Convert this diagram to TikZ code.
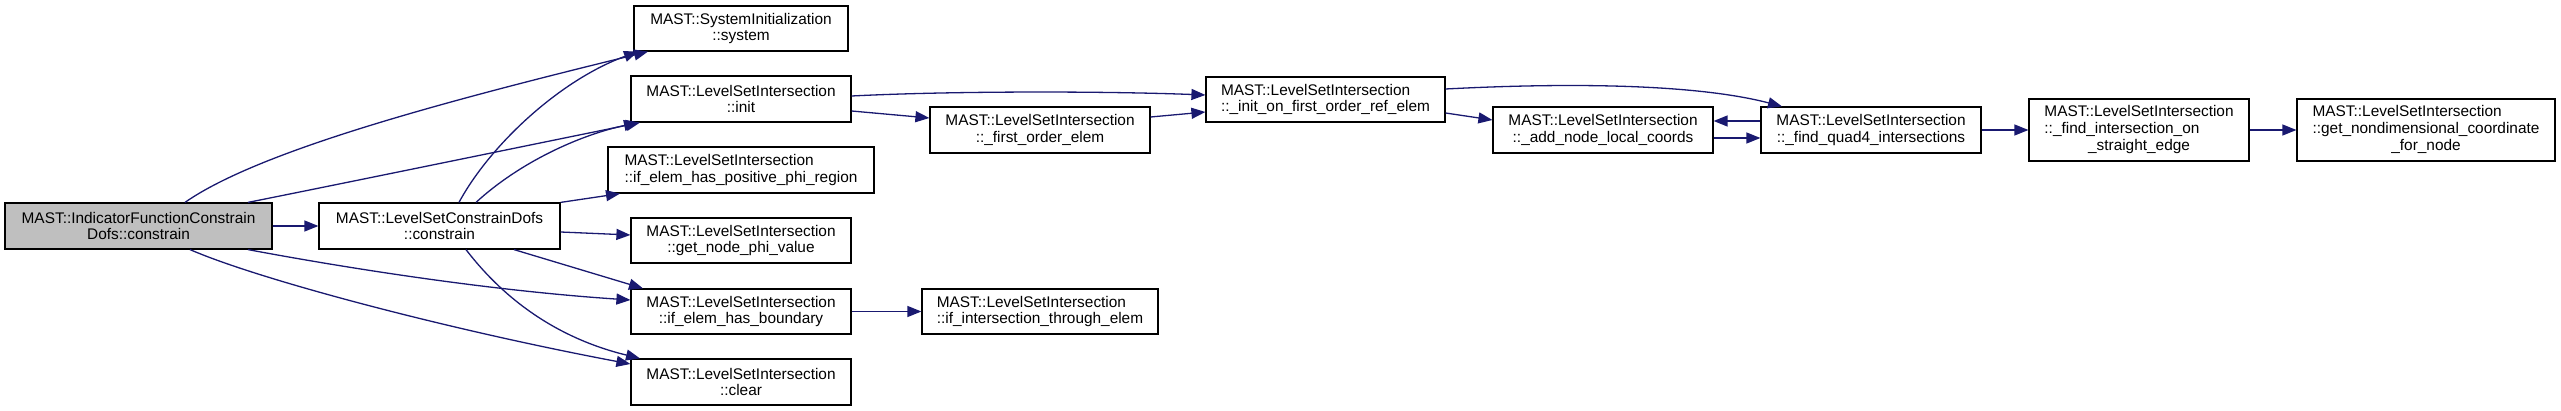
\documentclass[tikz,border=0pt]{standalone}
\usepackage{fontspec}
\setmainfont{Liberation Sans}
\usetikzlibrary{arrows.meta}
\definecolor{edgeblue}{HTML}{191970}
\definecolor{rootgray}{HTML}{BFBFBF}
\tikzset{
  fn/.style={draw=black, line width=1.2pt, fill=white, inner sep=0pt,
    font=\fontsize{15.4}{16.8}\selectfont, minimum height=46pt, align=center},
  fnl/.style={fn, align=left},
  call/.style={draw=edgeblue, line width=1.3pt,
    -{Triangle[length=14pt,width=11pt]}},
}
\begin{document}
\begin{tikzpicture}[x=1pt,y=-1pt]
\useasboundingbox (0,0) rectangle (2561,411);
% nodes
\node[fn, fill=rootgray, minimum width=267pt] (root) at (138.5,226) {MAST::IndicatorFunctionConstrain\\Dofs::constrain};
\node[fn, minimum width=241pt] (lscd) at (439.5,226) {MAST::LevelSetConstrainDofs\\::constrain};
\node[fn, minimum width=214pt, minimum height=45pt] (system) at (741,28.5) {MAST::SystemInitialization\\::system};
\node[fn, minimum width=220pt] (init) at (741,99) {MAST::LevelSetIntersection\\::init};
\node[fnl, minimum width=266pt] (posphi) at (741,170) {MAST::LevelSetIntersection\\::if\_elem\_has\_positive\_phi\_region};
\node[fn, minimum width=220pt, minimum height=45pt] (getphi) at (741,240.5) {MAST::LevelSetIntersection\\::get\_node\_phi\_value};
\node[fn, minimum width=220pt, minimum height=45pt] (boundary) at (741,311.5) {MAST::LevelSetIntersection\\::if\_elem\_has\_boundary};
\node[fn, minimum width=220pt] (clear) at (741,382) {MAST::LevelSetIntersection\\::clear};
\node[fn, minimum width=220pt] (firstorder) at (1040,130) {MAST::LevelSetIntersection\\::\_first\_order\_elem};
\node[fnl, minimum width=239pt, minimum height=45pt] (initref) at (1325.5,99.5) {MAST::LevelSetIntersection\\::\_init\_on\_first\_order\_ref\_elem};
\node[fn, minimum width=220pt] (addnode) at (1603,130) {MAST::LevelSetIntersection\\::\_add\_node\_local\_coords};
\node[fnl, minimum width=236pt, minimum height=45pt] (ifinter) at (1040,311.5) {MAST::LevelSetIntersection\\::if\_intersection\_through\_elem};
\node[fn, minimum width=220pt] (quad4) at (1871,130) {MAST::LevelSetIntersection\\::\_find\_quad4\_intersections};
\node[fn, minimum width=220pt, minimum height=62pt] (straight) at (2139,130) {\begin{tabular}{@{}l@{}}MAST::LevelSetIntersection\\::\_find\_intersection\_on\\\multicolumn{1}{@{}c@{}}{\_straight\_edge}\end{tabular}};
\node[fn, minimum width=258pt, minimum height=62pt] (nondim) at (2426,130) {\begin{tabular}{@{}l@{}}MAST::LevelSetIntersection\\::get\_nondimensional\_coordinate\\\multicolumn{1}{@{}c@{}}{\_for\_node}\end{tabular}};
% edges from root
\draw[call] ([xshift=46.5pt]root.north) .. controls (260,150) and (450,100) .. ([xshift=-93pt]system.south);
\draw[call] ([xshift=109.5pt]root.north) .. controls (350,182) and (530,145) .. ([xshift=-101pt]init.south);
\draw[call] (root) -- (lscd);
\draw[call] ([xshift=109.5pt]root.south) .. controls (330,265) and (480,290) .. ([yshift=11.5pt]boundary.west);
\draw[call] ([xshift=51.5pt]root.south) .. controls (260,280) and (450,330) .. ([yshift=18pt]clear.west);
% edges from lscd
\draw[call] ([xshift=19.5pt]lscd.north) .. controls (490,145) and (560,80) .. ([xshift=-103pt]system.south);
\draw[call] ([xshift=36.5pt]lscd.north) .. controls (520,162) and (580,135) .. ([xshift=-103pt]init.south);
\draw[call] (lscd.north east) -- ([xshift=-121pt]posphi.south);
\draw[call] ([yshift=-6pt]lscd.east) -- ([yshift=5.5pt]getphi.west);
\draw[call] ([xshift=74.5pt]lscd.south) -- ([xshift=-98pt]boundary.north);
\draw[call] ([xshift=26.5pt]lscd.south) .. controls (520,320) and (585,345) .. ([xshift=-101pt]clear.north);
% further edges
\draw[call] ([yshift=3pt]init.east) .. controls (950,91) and (1100,91) .. ([yshift=4.5pt]initref.west);
\draw[call] ([yshift=-12pt]init.east) -- ([yshift=12pt]firstorder.west);
\draw[call] ([yshift=13pt]firstorder.east) -- ([yshift=-12.5pt]initref.west);
\draw[call] ([yshift=-13.5pt]initref.east) -- ([yshift=10pt]addnode.west);
\draw[call] ([yshift=10.5pt]initref.east) .. controls (1580,82) and (1700,85) .. ([xshift=-89pt]quad4.north);
\draw[call] ([yshift=9pt]quad4.west) -- ([yshift=9pt]addnode.east);
\draw[call] ([yshift=-8pt]addnode.east) -- ([yshift=-8pt]quad4.west);
\draw[call] (quad4) -- (straight);
\draw[call] (straight) -- (nondim);
\draw[call] (boundary) -- (ifinter);
\end{tikzpicture}
\end{document}
